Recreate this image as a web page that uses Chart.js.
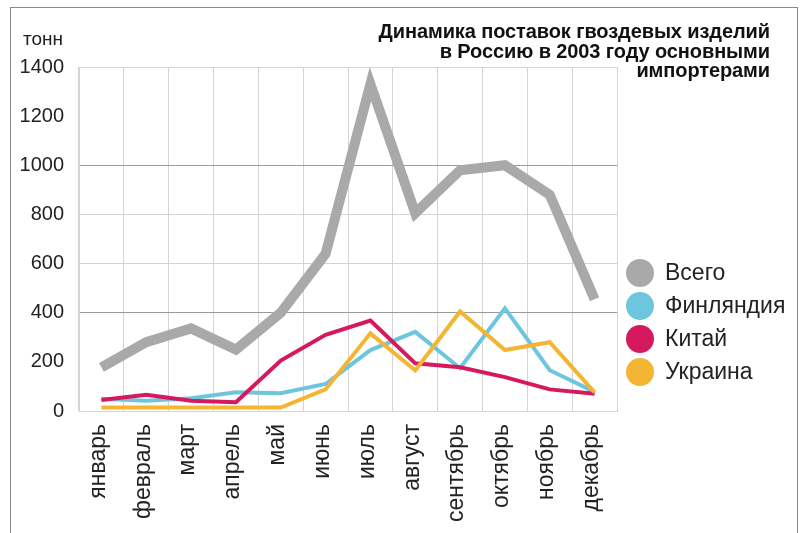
<!DOCTYPE html>
<html>
<head>
<meta charset="utf-8">
<script src="https://cdn.jsdelivr.net/npm/chart.js@4"></script>
<style>
    body { margin: 0; background: #fff; }
    #wrap { position: relative; width: 803px; height: 533px; overflow: hidden; font-family: "Liberation Sans", Arial, sans-serif; }
    #frame { position: absolute; left: 10px; top: 7px; width: 786px; height: 560px; border: 1px solid #8a8a8a; }
    #chart { position: absolute; left: 0; top: 0; }
    #unit { position: absolute; right: 740px; top: 28px; font-size: 19px; color: #222; }
    #title { position: absolute; right: 33px; top: 22px; text-align: right; font-weight: bold; font-size: 20px; line-height: 19.5px; color: #111; letter-spacing: -0.1px; }
    #legend { position: absolute; left: 626px; top: 256px; }
    .item { height: 33px; display: flex; align-items: center; font-size: 23px; color: #222; }
    .dot { width: 28px; height: 28px; border-radius: 50%; margin-right: 11px; }
</style>
</head>
<body>
<div id="wrap">
    <div id="frame"></div>
    <canvas id="chart" width="803" height="533"></canvas>
    <div id="unit">тонн</div>
    <div id="title">Динамика поставок гвоздевых изделий<br>в Россию в 2003 году основными<br>импортерами</div>
    <div id="legend"></div>
</div>
<script>
// Months
const months = ['январь', 'февраль', 'март', 'апрель', 'май', 'июнь', 'июль', 'август', 'сентябрь', 'октябрь', 'ноябрь', 'декабрь'];

// Series values, tonnes
const total = [178, 280, 336, 250, 400, 640, 1330, 805, 980, 1000, 880, 455];
const finland = [50, 42, 52, 76, 72, 110, 248, 322, 174, 418, 166, 78];
const china = [45, 66, 42, 36, 205, 310, 368, 194, 178, 138, 88, 70];
const ukraine = [14, 14, 14, 14, 14, 88, 316, 165, 405, 248, 280, 76];

const seriesNames = ['Всего', 'Финляндия', 'Китай', 'Украина'];
const seriesColors = ['#a9a9a9', '#6ec6de', '#d6195f', '#f4b534'];

// Build legend
const legendEl = document.getElementById('legend');
seriesNames.forEach((name, idx) => {
    const row = document.createElement('div');
    row.className = 'item';
    row.innerHTML = `<span class="dot" style="background:${seriesColors[idx]}"></span>${name}`;
    legendEl.appendChild(row);
});

// Only some horizontal lines are drawn, two of them darker
function gridColor(ctx) {
    const v = ctx.tick && ctx.tick.value;
    if (v === 1000 || v === 400) return '#9a9a9a';
    if (v === 1200 || v === 200) return 'rgba(0,0,0,0)';
    return '#d4d4d4';
}

const ctx = document.getElementById('chart');
new Chart(ctx.getContext('2d'), {
    type: 'line',
    data: {
        labels: months,
        datasets: [
            { label: seriesNames[3], data: ukraine, borderColor: seriesColors[3], borderWidth: 4 },
            { label: seriesNames[2], data: china, borderColor: seriesColors[2], borderWidth: 4 },
            { label: seriesNames[1], data: finland, borderColor: seriesColors[1], borderWidth: 4 },
            { label: seriesNames[0], data: total, borderColor: seriesColors[0], borderWidth: 10 }
        ]
    },
    options: {
        responsive: false,
        animation: false,
        datasets: {
            line: {
                tension: 0,
                pointRadius: 0,
                borderJoinStyle: 'miter',
                borderCapStyle: 'butt',
                fill: false
            }
        },
        layout: {
            padding: { left: 0, top: 67, right: 186, bottom: 0 }
        },
        plugins: {
            legend: { display: false },
            tooltip: { enabled: false }
        },
        scales: {
            x: {
                offset: true,
                grid: { offset: true, color: '#d4d4d4', drawTicks: false },
                border: { color: '#d4d4d4' },
                ticks: {
                    minRotation: 90,
                    maxRotation: 90,
                    padding: 13,
                    labelOffset: -3,
                    color: '#222',
                    font: { family: 'Liberation Sans', size: 23 }
                },
                afterFit: scale => { scale.height = 122; }
            },
            y: {
                min: 0,
                max: 1400,
                ticks: {
                    stepSize: 200,
                    padding: 15,
                    color: '#222',
                    font: { family: 'Liberation Sans', size: 20 },
                    callback: value => String(value)
                },
                grid: { color: gridColor, drawTicks: false },
                border: { color: '#d4d4d4' },
                afterFit: scale => { scale.width = 79; }
            }
        }
    }
});
</script>
</body>
</html>
